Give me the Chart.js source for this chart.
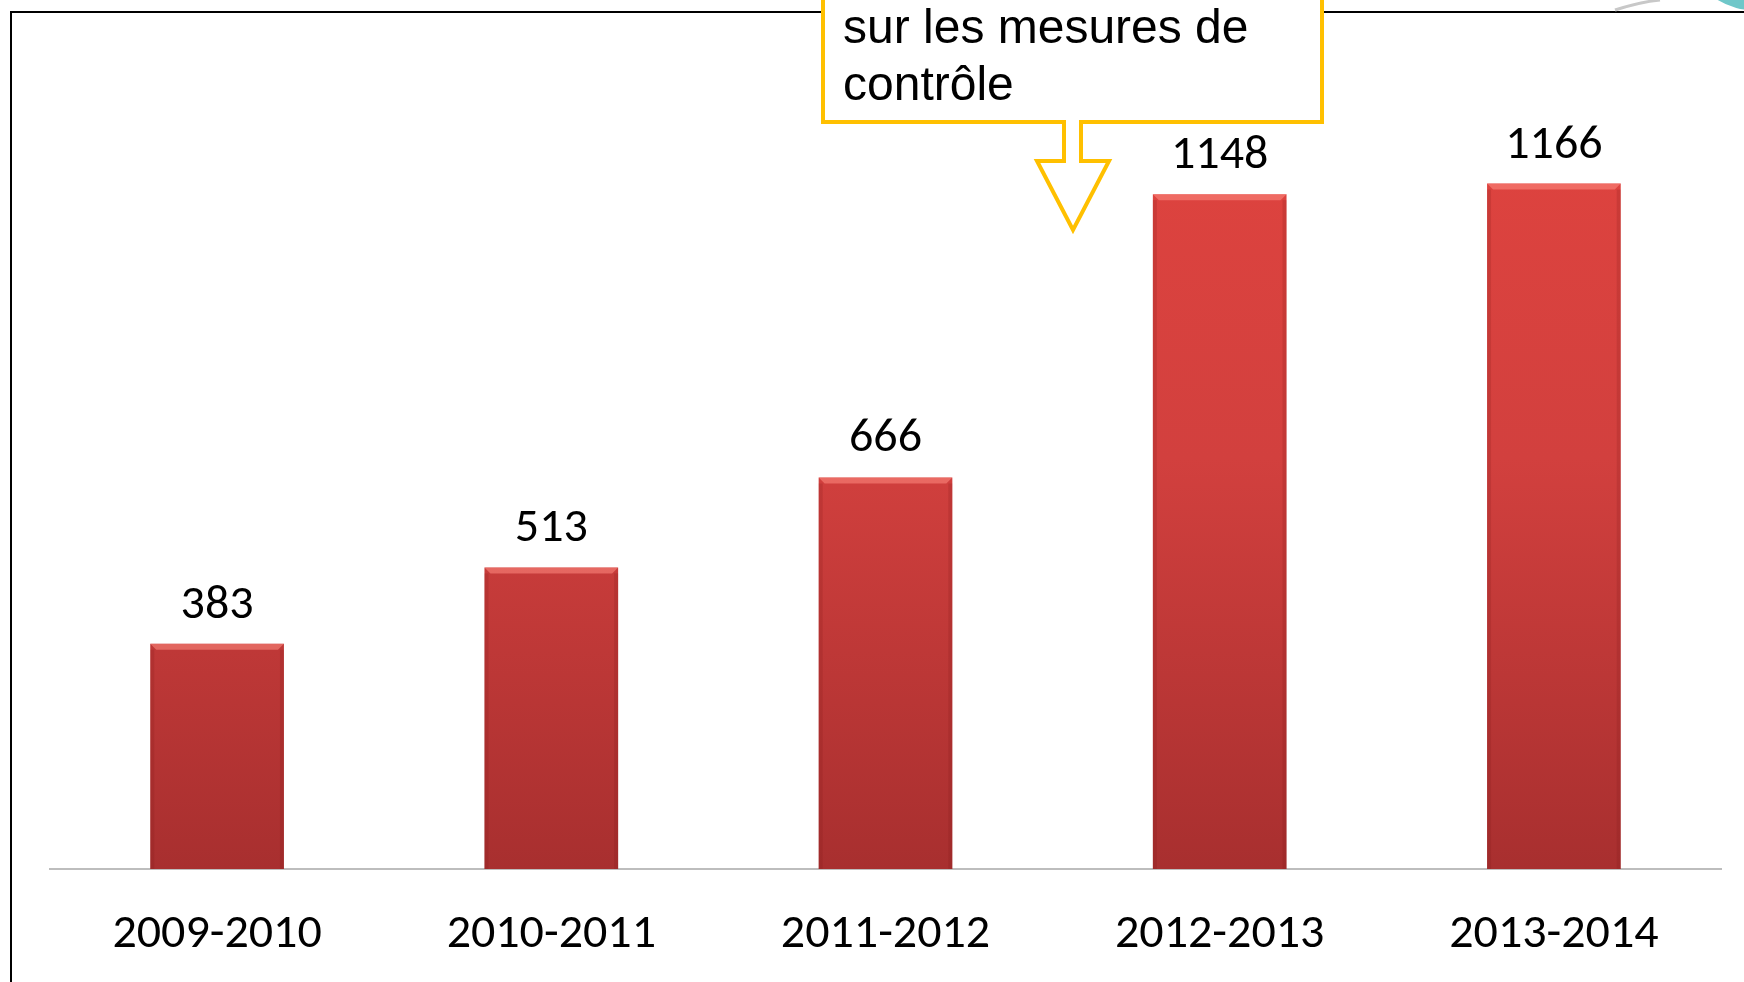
<!DOCTYPE html>
<html>
<head>
<meta charset="utf-8">
<script src="https://cdn.jsdelivr.net/npm/chart.js@4"></script>
<style>
  html, body { margin: 0; padding: 0; background: #fff; overflow: hidden; }
  #wrap { position: relative; width: 1744px; height: 982px; }
</style>
</head>
<body>
<div id="wrap"><canvas id="barChart" width="1744" height="982"></canvas></div>
<script>
// données du graphique
const saisons = ['2009-2010', '2010-2011', '2011-2012', '2012-2013', '2013-2014'];
const nombres = [383, 513, 666, 1148, 1166];
const calloutLines = ['sur les mesures de', 'contrôle'];

const labelFont = "Carlito, Lato, 'Open Sans', sans-serif";

// dégradé rouge des barres
function barGradient(context) {
    const chart = context.chart;
    const area = chart.chartArea;
    if (!area) return '#d0403d';
    const g = chart.ctx.createLinearGradient(0, area.top, 0, area.bottom);
    g.addColorStop(0, '#e2443f');
    g.addColorStop(0.5, '#d2403e');
    g.addColorStop(1, '#a82f2f');
    return g;
}

// cadre (lignes noires gauche et haut) + décor coin
const framePlugin = {
    id: 'frame',
    beforeDraw(chart) {
        const ctx = chart.ctx;
        ctx.save();
        ctx.strokeStyle = '#000';
        ctx.lineWidth = 2;
        ctx.beginPath();
        ctx.moveTo(11, 982);
        ctx.lineTo(11, 12);
        ctx.lineTo(1744, 12);
        ctx.stroke();
        // petit décor turquoise en haut à droite
        ctx.fillStyle = '#6fc7c9';
        ctx.beginPath();
        ctx.ellipse(1760, -30, 62, 41, 0, 0, Math.PI * 2);
        ctx.fill();
        ctx.strokeStyle = '#c8c8c8';
        ctx.lineWidth = 3;
        ctx.beginPath();
        ctx.moveTo(1615, 10);
        ctx.quadraticCurveTo(1640, 2, 1660, 0);
        ctx.stroke();
        ctx.restore();
    }
};

// étiquettes de valeurs + biseau au sommet des barres
const valuePlugin = {
    id: 'values',
    afterDatasetsDraw(chart) {
        const ctx = chart.ctx;
        const meta = chart.getDatasetMeta(0);
        ctx.save();
        meta.data.forEach((bar, i) => {
            const half = bar.width / 2;
            // biseau clair en haut
            ctx.fillStyle = 'rgba(255,140,130,0.55)';
            ctx.beginPath();
            ctx.moveTo(bar.x - half, bar.y);
            ctx.lineTo(bar.x + half, bar.y);
            ctx.lineTo(bar.x + half - 6, bar.y + 6);
            ctx.lineTo(bar.x - half + 6, bar.y + 6);
            ctx.closePath();
            ctx.fill();
            // bords latéraux plus sombres
            ctx.fillStyle = 'rgba(120,20,20,0.18)';
            ctx.fillRect(bar.x - half, bar.y + 6, 4, bar.base - bar.y - 6);
            ctx.fillRect(bar.x + half - 4, bar.y + 6, 4, bar.base - bar.y - 6);

            ctx.fillStyle = '#000';
            ctx.font = '48px ' + labelFont;
            ctx.textAlign = 'center';
            ctx.textBaseline = 'middle';
            ctx.fillText(String(nombres[i]), bar.x, bar.y - 38);
        });
        ctx.restore();
    }
};

// bulle jaune avec flèche
const calloutPlugin = {
    id: 'callout',
    afterDraw(chart) {
        const ctx = chart.ctx;
        ctx.save();
        ctx.lineWidth = 4;
        ctx.strokeStyle = '#ffc000';
        ctx.fillStyle = '#fff';
        ctx.lineJoin = 'miter';
        ctx.beginPath();
        ctx.moveTo(823, -20);
        ctx.lineTo(1322, -20);
        ctx.lineTo(1322, 122);
        ctx.lineTo(1081, 122);
        ctx.lineTo(1081, 161);
        ctx.lineTo(1109, 161);
        ctx.lineTo(1073, 230);
        ctx.lineTo(1037, 161);
        ctx.lineTo(1064, 161);
        ctx.lineTo(1064, 122);
        ctx.lineTo(823, 122);
        ctx.closePath();
        ctx.fill();
        ctx.stroke();

        ctx.fillStyle = '#000';
        ctx.font = "48px 'Liberation Sans', Arial, sans-serif";
        ctx.textAlign = 'left';
        ctx.textBaseline = 'middle';
        calloutLines.forEach((t, i) => ctx.fillText(t, 843, 30 + i * 57));
        ctx.restore();
    }
};

const ctx = document.getElementById('barChart').getContext('2d');
new Chart(ctx, {
    type: 'bar',
    data: {
        labels: saisons,
        datasets: [{
            data: nombres,
            backgroundColor: barGradient,
            borderWidth: 0,
            barPercentage: 0.4,
            categoryPercentage: 1.0
        }]
    },
    options: {
        responsive: false,
        animation: false,
        layout: { padding: { top: 46, left: 50, right: 23, bottom: 27 } },
        plugins: {
            legend: { display: false },
            tooltip: { enabled: false }
        },
        scales: {
            y: {
                display: false,
                min: 0,
                max: 1400
            },
            x: {
                grid: { display: false, drawTicks: false, tickLength: 0 },
                border: { display: true, color: '#bdbdbd', width: 2 },
                ticks: {
                    color: '#000',
                    padding: 37,
                    font: { family: labelFont, size: 48 },
                    maxRotation: 0
                },
                afterFit(scale) { scale.height = 86; }
            }
        }
    },
    plugins: [framePlugin, valuePlugin, calloutPlugin]
});
</script>
</body>
</html>
